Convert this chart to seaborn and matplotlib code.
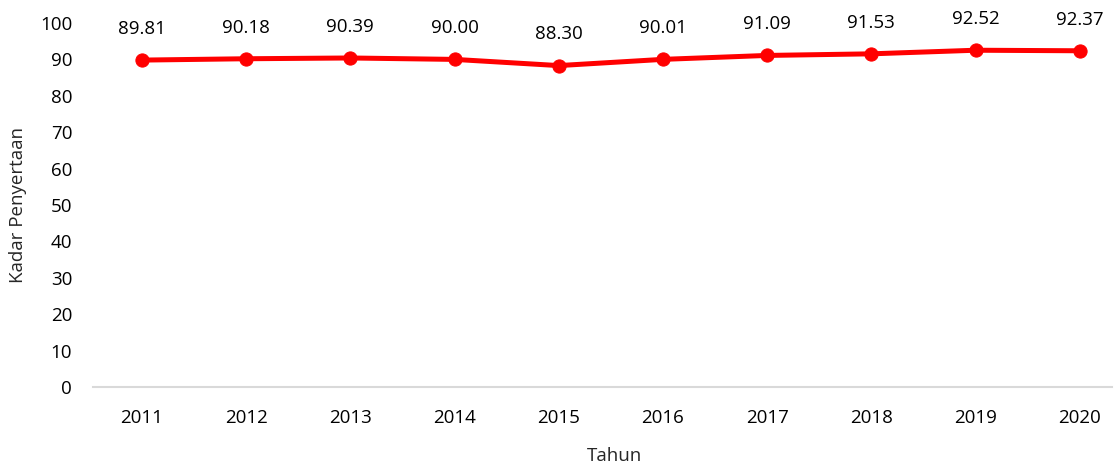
import matplotlib
matplotlib.use("Agg")
import matplotlib.pyplot as plt
import seaborn as sns
import pandas as pd

years = ["2011", "2012", "2013", "2014", "2015", "2016", "2017", "2018", "2019", "2020"]
values = [89.81, 90.18, 90.39, 90.00, 88.30, 90.01, 91.09, 91.53, 92.52, 92.37]
yticks = [0, 10, 20, 30, 40, 50, 60, 70, 80, 90, 100]

sns.set_theme(style="white")
plt.rcParams['font.family'] = ['Open Sans', 'DejaVu Sans']

df = pd.DataFrame({"Tahun": years, "Kadar": values})

fig = plt.figure(figsize=(11.14, 4.67), dpi=100)
ax = fig.add_axes([93/1114, 1 - 387/467, (1112 - 93)/1114, (387 - 23)/467])

sns.lineplot(data=df, x="Tahun", y="Kadar", ax=ax, color="#ff0000", linewidth=3.6,
             marker="o", markersize=9.5, markeredgecolor="#ff0000", sort=False)

for i, v in enumerate(values):
    ax.annotate(f"{v:.2f}", (i, v), xytext=(0, 16), textcoords="offset points",
                ha="center", va="bottom", fontsize=13.5, color="#000000")

ax.set_xlim(-0.47, 9.31)
ax.set_ylim(0, 100)
ax.set_yticks(yticks)
ax.tick_params(axis="both", length=0, labelsize=13.5, colors="#000000")
ax.tick_params(axis="x", pad=16)
ax.tick_params(axis="y", pad=15)
for s in ["top", "right", "left"]:
    ax.spines[s].set_visible(False)
ax.spines["bottom"].set_color("#d9d9d9")
ax.spines["bottom"].set_linewidth(1.5)
ax.set_xlabel("Tahun", fontsize=13.5, labelpad=14)
ax.xaxis.set_label_coords(0.512, -0.165)
ax.set_ylabel("Kadar Penyertaan", fontsize=13.5, labelpad=9)
ax.grid(False)

fig.savefig("out.png", dpi=100)
